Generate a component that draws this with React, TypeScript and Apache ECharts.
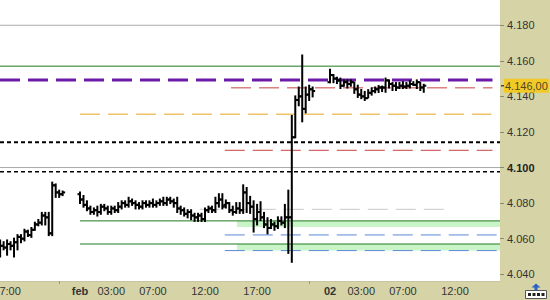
import React, { useEffect, useRef } from "react";
import * as echarts from "echarts";

// Bars are 20-minute OHLC bars: [open, close, low, high]
const jan31Start = -7 - 2 / 3; // hours from 1 Feb 00:00 (31 Jan 16:20)
const jan31Bars = [
  [4052, 4056, 4050, 4059], [4056, 4055, 4054, 4058], [4055, 4057, 4051, 4059], [4057, 4056, 4054, 4058],
  [4056, 4058, 4050, 4060], [4058, 4061, 4054, 4062], [4061, 4060, 4058, 4062], [4060, 4064, 4059, 4065],
  [4064, 4062, 4061.5, 4064.5], [4062, 4065, 4061, 4066], [4065, 4068, 4065, 4069], [4068, 4069, 4067.5, 4070.5],
  [4069, 4073, 4068, 4074.5], [4073, 4072, 4068, 4074.5], [4072, 4063, 4062, 4074.5], [4063, 4090, 4062, 4091.5],
  [4090, 4086, 4083.5, 4090.5], [4086, 4085, 4083.5, 4087], [4085, 4086, 4084.5, 4086.5],
];
const feb1Start = 0;
const feb1Bars = [
  [4085, 4082, 4080, 4086], [4082, 4079, 4078, 4084], [4079, 4077, 4076, 4081], [4077, 4075, 4074, 4078],
  [4075, 4076, 4074, 4077], [4076, 4075, 4073, 4078], [4075, 4078, 4074, 4079], [4078, 4077, 4076, 4079],
  [4077, 4075, 4074, 4078], [4075, 4077, 4074, 4078], [4077, 4076, 4075, 4078], [4076, 4078, 4075, 4080],
  [4078, 4080, 4077, 4081], [4080, 4079, 4078, 4081], [4079, 4081, 4078, 4083], [4081, 4080, 4079, 4082],
  [4080, 4079, 4077, 4081], [4079, 4078, 4077, 4080], [4078, 4080, 4077, 4081], [4080, 4079, 4078, 4081],
  [4079, 4080, 4078, 4081], [4080, 4079, 4078, 4082], [4079, 4080, 4078, 4081], [4080, 4081, 4079, 4082],
  [4081, 4080, 4079, 4083], [4080, 4082, 4079, 4083], [4082, 4081, 4080, 4083], [4081, 4080, 4078, 4082],
  [4080, 4077, 4075, 4083], [4077, 4076, 4074, 4078], [4076, 4074, 4073, 4077], [4074, 4075, 4072, 4076],
  [4075, 4073, 4071, 4076], [4073, 4072, 4070, 4074], [4072, 4073, 4070, 4074], [4073, 4071, 4070, 4074],
  [4071, 4076, 4070, 4077], [4076, 4077, 4075, 4078], [4077, 4076, 4075, 4078], [4076, 4080, 4075, 4083],
  [4080, 4082, 4078, 4085], [4082, 4078, 4077, 4085], [4079, 4080, 4077.5, 4081.5], [4080, 4076, 4075, 4080],
  [4076, 4075, 4073.5, 4078], [4075, 4077, 4074.5, 4080], [4077, 4076, 4074.5, 4080], [4076, 4086, 4074.5, 4090],
  [4086, 4080, 4075, 4088.5], [4080, 4078, 4074.5, 4083.5], [4078, 4071, 4064, 4081], [4071, 4075, 4068, 4079],
  [4075, 4072, 4070.5, 4080.5], [4072, 4068, 4066.5, 4074.5], [4068, 4066, 4063, 4071.5], [4066, 4068, 4066, 4070.5],
  [4068, 4067, 4065, 4069], [4067, 4070, 4066, 4072], [4070, 4069, 4068, 4072], [4069, 4072, 4066.5, 4079],
  [4072, 4072, 4052, 4087], [4072, 4117, 4047, 4129], [4117, 4138, 4117, 4140], [4138, 4140, 4135, 4145],
  [4140, 4133, 4126, 4163], [4133, 4141, 4131, 4145], [4141, 4144, 4138, 4146], [4144, 4143, 4140, 4145],
];
const feb2Start = 24;
const feb2Bars = [
  [4148, 4152, 4148, 4155], [4152, 4150, 4148, 4152], [4150, 4149, 4147.5, 4150.5], [4149, 4146, 4144.7, 4150],
  [4146, 4148, 4146, 4149], [4148, 4147, 4145, 4149], [4147, 4148, 4146, 4149], [4148, 4144, 4142, 4147.5],
  [4144, 4141, 4139.7, 4146], [4141, 4140, 4139, 4143.6], [4140, 4139, 4138, 4142.5], [4139, 4142, 4139.5, 4143.5],
  [4142, 4143, 4141, 4144.5], [4143, 4144, 4142.3, 4145], [4144, 4145, 4142.5, 4145.8], [4145, 4145, 4143, 4145.5],
  [4145, 4149, 4142.6, 4150], [4149, 4147, 4145, 4149], [4147, 4146, 4143.6, 4147.5], [4146, 4145, 4143.6, 4147.5],
  [4145, 4146, 4144.7, 4147.5], [4146, 4145.5, 4144.7, 4148], [4145.5, 4146, 4144.7, 4147.5], [4146, 4147, 4145, 4148.5],
  [4147, 4146.5, 4146.4, 4148], [4146.5, 4148, 4144.7, 4149], [4148, 4145, 4143.6, 4147.5], [4145, 4146, 4142.6, 4146.5],
];

// Horizontal levels (price, start hour, end hour); null = axis edge
const levelPrices = [4180, 4100, 4157, 4149.2, 4144.8, 4130, 4114.2, 4109.7, 4097.6, 4076.5, 4070, 4062.1, 4057, 4053.3];
const levelStart = [null, null, null, null, 14.5, 0, null, 13.9, null, 11.5, 0, 13.9, 0, 13.9];
const levelEnd = [null, null, null, 39.6, 39.6, 39.5, null, 39.6, null, 35.5, null, 40, null, 40];
// Support zones (top, bottom, start hour)
const zoneTop = [4070, 4057];
const zoneBottom = [4066.5, 4053.4];
const zoneStart = [15.07, 15.07];

const xTickHours = [-7, 0, 3, 7, 12, 17, 24, 27, 31, 36];
const xTickLabels = ["17:00", "feb", "03:00", "07:00", "12:00", "17:00", "02", "03:00", "07:00", "12:00"];
const yTicks = [4040, 4060, 4080, 4100, 4120, 4140, 4160, 4180];
const xMin = -7.68;
const xMax = 40.32;
const yMin = 4036.2;
const yMax = 4194.2;

const levelStyles = [
  { color: "#aaaaaa", width: 1, type: "solid" },
  { color: "#aaaaaa", width: 1, type: "solid" },
  { color: "#1e7a1e", width: 1, type: "solid" },
  { color: "#6c1aa8", width: 3, type: [20, 8] },
  { color: "#c84040", width: 1, type: [20, 8] },
  { color: "#f0c468", width: 1.5, type: [20, 8] },
  { color: "#000000", width: 2, type: [4, 3] },
  { color: "#c84040", width: 1, type: [20, 8] },
  { color: "#000000", width: 1.5, type: [4, 3] },
  { color: "#c8c8c8", width: 1, type: [20, 8] },
  { color: "#1e7a1e", width: 1, type: "solid" },
  { color: "#5b88d4", width: 1, type: [20, 8] },
  { color: "#1e7a1e", width: 1, type: "solid" },
  { color: "#5b88d4", width: 1, type: [20, 8] },
];

function fmtThousands(v: number) {
  const i = Math.round(v);
  return Math.floor(i / 1000) + "." + String(i % 1000).padStart(3, "0");
}

export default function App() {
  const ref = useRef<HTMLDivElement>(null);
  useEffect(() => {
    if (!ref.current) return;
    const chart = echarts.init(ref.current, null, { renderer: "svg" });
    const ohlc: number[][] = [];
    const push = (start: number, bars: number[][]) =>
      bars.forEach((b, k) => ohlc.push([start + k / 3, b[0], b[1], b[2], b[3]]));
    push(jan31Start, jan31Bars);
    push(feb1Start, feb1Bars);
    push(feb2Start, feb2Bars);
    const lastClose = feb2Bars[feb2Bars.length - 1][1];

    const levelSeries = levelPrices.map((p, i) => ({
      type: "line",
      z: 2,
      silent: true,
      symbol: "none",
      data: [
        [levelStart[i] ?? xMin, p],
        [levelEnd[i] ?? xMax, p],
      ],
      lineStyle: { color: levelStyles[i].color, width: levelStyles[i].width, type: levelStyles[i].type },
    }));

    const font = "Liberation Sans, Arial, sans-serif";
    chart.setOption({
      animation: false,
      backgroundColor: "#d6d3a7",
      grid: {
        left: 0, right: 50, top: 0, bottom: 19, show: true, backgroundColor: "#ffffff", borderWidth: 0,
        containLabel: false, outerBoundsMode: "none",
      },
      xAxis: {
        type: "value",
        min: xMin,
        max: xMax,
        splitLine: { show: false },
        axisLine: { show: true, onZero: false, lineStyle: { color: "#c8c4a0" } },
        axisTick: { show: true, customValues: [-2, 22], length: 3, lineStyle: { color: "#9a9a80" } },
        axisLabel: {
          customValues: xTickHours,
          alignMinLabel: "center",
          alignMaxLabel: "center",
          hideOverlap: false,
          margin: 4,
          fontSize: 11,
          fontFamily: font,
          color: "#333",
          formatter: (v: number) => {
            const idx = xTickHours.findIndex((h) => Math.abs(h - v) < 1e-6);
            const t = idx >= 0 ? xTickLabels[idx] : "";
            return t.includes(":") ? t : "{b|" + t + "}";
          },
          rich: { b: { fontWeight: "bold", fontSize: 11, fontFamily: font, color: "#333" } },
        },
      },
      yAxis: {
        type: "value",
        position: "right",
        min: yMin,
        max: yMax,
        splitLine: { show: false },
        axisLine: { show: false, onZero: false },
        axisTick: { show: true, customValues: yTicks, length: 4, lineStyle: { color: "#8a8a70" } },
        axisLabel: {
          customValues: yTicks,
          margin: 7,
          fontSize: 11,
          fontFamily: font,
          color: "#333",
          formatter: (v: number) => (Math.round(v) === 4100 ? "{b|" + fmtThousands(v) + "}" : fmtThousands(v)),
          rich: { b: { fontWeight: "bold", fontSize: 11, fontFamily: font, color: "#222" } },
        },
      },
      series: [
        {
          type: "line",
          z: 1,
          silent: true,
          symbol: "none",
          data: [],
          markArea: {
            silent: true,
            itemStyle: { color: "#c8f4c8" },
            data: zoneTop.map((t, i) => [
              { xAxis: zoneStart[i], yAxis: t },
              { xAxis: xMax, yAxis: zoneBottom[i] },
            ]),
          },
        },
        ...levelSeries,
        {
          type: "custom",
          z: 3,
          data: ohlc,
          encode: { x: 0, y: [1, 2, 3, 4] },
          renderItem: (params: any, api: any) => {
            const x = api.value(0);
            const pO = api.coord([x, api.value(1)]);
            const pC = api.coord([x, api.value(2)]);
            const pL = api.coord([x, api.value(3)]);
            const pH = api.coord([x, api.value(4)]);
            const st = { stroke: "#000", lineWidth: 2 };
            return {
              type: "group",
              children: [
                { type: "line", shape: { x1: pL[0], y1: pL[1] + 1, x2: pH[0], y2: pH[1] - 1 }, style: st },
                { type: "line", shape: { x1: pO[0] - 2.5, y1: pO[1], x2: pO[0], y2: pO[1] }, style: st },
                { type: "line", shape: { x1: pC[0], y1: pC[1], x2: pC[0] + 2.5, y2: pC[1] }, style: st },
              ],
            };
          },
        },
        {
          type: "scatter",
          z: 10,
          silent: true,
          clip: false,
          symbol: "rect",
          symbolSize: [3, 1.5],
          symbolOffset: [2.5, 0],
          itemStyle: { color: "#222" },
          data: [[xMax, lastClose]],
          label: {
            show: true,
            position: "right",
            distance: 0,
            formatter: () => fmtThousands(lastClose) + ",00",
            backgroundColor: "#f7c808",
            color: "#222",
            fontSize: 11,
            fontFamily: font,
            padding: [2, 1, 1, 1],
          },
        },
      ],
      graphic: [
        {
          type: "group",
          right: 3,
          bottom: 1,
          children: [
            { type: "rect", shape: { x: 0, y: 7, width: 21, height: 8 }, style: { fill: "#ffffff", stroke: "#555", lineWidth: 1 } },
            { type: "rect", shape: { x: 2.5, y: 9.5, width: 3, height: 3 }, style: { fill: "#222" } },
            { type: "rect", shape: { x: 7, y: 9.5, width: 3, height: 3 }, style: { fill: "#222" } },
            { type: "rect", shape: { x: 11.5, y: 9.5, width: 3, height: 3 }, style: { fill: "#222" } },
            { type: "rect", shape: { x: 16, y: 9.5, width: 3, height: 3 }, style: { fill: "#222" } },
            { type: "polygon", shape: { points: [[10.5, 0], [6, 4], [9, 4], [9, 7], [12, 7], [12, 4], [15, 4]] }, style: { fill: "#2a62c8" } },
          ],
        },
      ],
    });
    return () => chart.dispose();
  }, []);
  return <div ref={ref} style={{ position: "absolute", left: 0, top: 0, width: 550, height: 300 }} />;
}
